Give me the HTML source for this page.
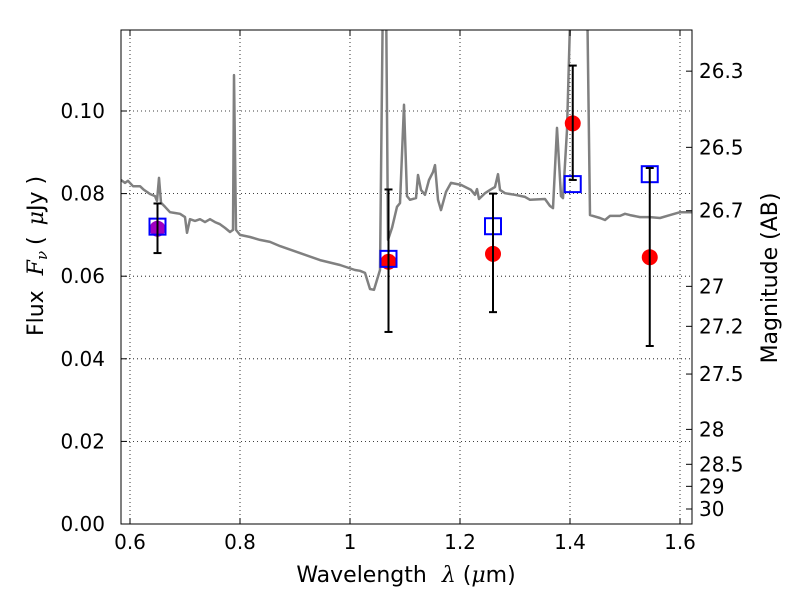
<!DOCTYPE html>
<html><head><meta charset="utf-8"><style>
body{margin:0;background:#fff;}
svg{display:block;font-family:"DejaVu Sans","Liberation Sans",sans-serif;}
</style></head><body>
<svg id="c" width="800" height="600"></svg>
<script>
const specWl=[0.5836,0.5909,0.5964,0.6055,0.6182,0.6255,0.6364,0.6455,0.6491,0.6527,0.6564,0.6636,0.6727,0.6818,0.6909,0.7,0.7036,0.7091,0.7182,0.7273,0.7364,0.7455,0.7545,0.7636,0.7727,0.7818,0.7873,0.7891,0.7927,0.8,0.8182,0.8364,0.8545,0.8727,0.9091,0.9455,0.9818,1.0091,1.0182,1.0273,1.0364,1.0436,1.0545,1.06,1.0655,1.0691,1.0764,1.0855,1.0909,1.0982,1.1036,1.1091,1.12,1.1236,1.1291,1.1364,1.1436,1.1509,1.1545,1.16,1.1655,1.1745,1.1836,1.2018,1.22,1.2273,1.2309,1.2345,1.2455,1.2545,1.2636,1.2691,1.2727,1.2818,1.3,1.3182,1.3273,1.3545,1.3636,1.3691,1.3764,1.3836,1.3873,1.3945,1.4018,1.4309,1.4364,1.4545,1.4636,1.4727,1.4909,1.5,1.5091,1.5273,1.5455,1.5636,1.5818,1.6,1.6218];
const specFlux=[0.0833,0.0826,0.0831,0.0818,0.0818,0.0809,0.0799,0.0794,0.0782,0.0838,0.0778,0.0768,0.0755,0.0753,0.0751,0.0743,0.0705,0.0738,0.0734,0.0738,0.0731,0.0738,0.0731,0.0726,0.0717,0.0707,0.0712,0.1087,0.0712,0.0700,0.0695,0.0688,0.0683,0.0673,0.0656,0.0639,0.0627,0.0615,0.0613,0.0608,0.0569,0.0567,0.0615,0.13,0.13,0.0688,0.0717,0.0768,0.0777,0.1015,0.0794,0.0785,0.0789,0.0845,0.0809,0.0797,0.0833,0.0852,0.0869,0.0785,0.0760,0.0804,0.0826,0.0821,0.0809,0.0797,0.0811,0.0787,0.0801,0.0809,0.0816,0.0847,0.0809,0.0801,0.0797,0.0792,0.0785,0.0787,0.0770,0.0765,0.0959,0.0794,0.0789,0.0954,0.13,0.13,0.0748,0.0741,0.0736,0.0746,0.0746,0.0751,0.0748,0.0743,0.0743,0.0741,0.0748,0.0755,0.0755];
const photWl=[0.65,1.07,1.26,1.405,1.545];
const photFlux=[0.0715,0.0635,0.0654,0.0970,0.0646];
const photErrLo=[0.0656,0.0465,0.0513,0.0833,0.0431];
const photErrHi=[0.0776,0.0810,0.0800,0.1110,0.0862];
const modelFlux=[0.0720,0.0642,0.0721,0.0823,0.0847];
const yTicks=[0,0.02,0.04,0.06,0.08,0.10];
const yTickLabels=["0.00","0.02","0.04","0.06","0.08","0.10"];
const xTicks=[0.6,0.8,1.0,1.2,1.4,1.6];
const xTickLabels=["0.6","0.8","1","1.2","1.4","1.6"];
const magTicks=[26.3,26.5,26.7,27,27.2,27.5,28,28.5,29,30];
const magTickLabels=["26.3","26.5","26.7","27","27.2","27.5","28","28.5","29","30"];

const L=121,R=692,T=30,B=524;
const X=v=>130+(v-0.6)*550;
const Y=v=>524-v*4130;
const magToFlux=m=>Math.pow(10,(23.9-m)/2.5);
const svg=document.getElementById('c');
const NS='http://www.w3.org/2000/svg';
function mk(t,a,p){const e=document.createElementNS(NS,t);for(const k in a)e.setAttribute(k,a[k]);(p||svg).appendChild(e);return e;}

const clip=mk('clipPath',{id:'pc'});mk('rect',{x:L,y:T,width:R-L,height:B-T},clip);
xTicks.forEach(v=>{const g=mk('line',{x1:X(v),x2:X(v),y1:T,y2:B,stroke:'#000','stroke-dasharray':'1,3','stroke-width':0.8});
});
yTicks.forEach(v=>{const g=mk('line',{x1:L,x2:R,y1:Y(v),y2:Y(v),stroke:'#000','stroke-dasharray':'1,3','stroke-width':0.8});
});
const pts=specWl.map((w,i)=>X(w).toFixed(1)+','+Y(specFlux[i]).toFixed(1)).join(' ');
const spec=mk('polyline',{points:pts,fill:'none',stroke:'#808080','stroke-width':2.5,'clip-path':'url(#pc)','stroke-linejoin':'round'});

photWl.forEach((w,i)=>{
  const x=X(w);
  const c=mk('circle',{cx:x,cy:Y(photFlux[i]),r:8,fill:i===0?'#a000c0':'#ff0000'});
  
  const bx=mk('rect',{x:x-8,y:Y(modelFlux[i])-8,width:16,height:16,fill:'none',stroke:'#0000ff','stroke-width':2});
  
  const eg=mk('g',{stroke:'#000','stroke-width':2});
  
  mk('line',{x1:x,x2:x,y1:Y(photErrLo[i]),y2:Y(photErrHi[i])},eg);
  mk('line',{x1:x-4,x2:x+4,y1:Y(photErrLo[i]),y2:Y(photErrLo[i])},eg);
  mk('line',{x1:x-4,x2:x+4,y1:Y(photErrHi[i]),y2:Y(photErrHi[i])},eg);
});
const fr=mk('rect',{x:L,y:T,width:R-L,height:B-T,fill:'none',stroke:'#000','stroke-width':1});

xTicks.forEach((v,i)=>{mk('line',{x1:X(v),x2:X(v),y1:B,y2:B-6,stroke:'#000'});mk('line',{x1:X(v),x2:X(v),y1:T,y2:T+6,stroke:'#000'});
  const t=mk('text',{x:X(v),y:B+25,'text-anchor':'middle','font-size':20});t.textContent=xTickLabels[i];
  });
yTicks.forEach((v,i)=>{mk('line',{x1:L,x2:L+6,y1:Y(v),y2:Y(v),stroke:'#000'});
  const t=mk('text',{x:L-16,y:Y(v)+7,'text-anchor':'end','font-size':20});t.textContent=yTickLabels[i];
  });
magTicks.forEach((m,i)=>{const y=Y(magToFlux(m));mk('line',{x1:R,x2:R-6,y1:y,y2:y,stroke:'#000'});
  const t=mk('text',{x:R+7,y:y+7,'font-size':20});t.textContent=magTickLabels[i];
  });
let t=mk('text',{x:406,y:582,'text-anchor':'middle','font-size':22});
t.innerHTML='Wavelength  <tspan dx="8" font-style="italic" font-family="DejaVu Serif,serif">λ</tspan> (<tspan font-style="italic" font-family="DejaVu Serif,serif">μ</tspan>m)';

t=mk('text',{x:0,y:0,'text-anchor':'middle','font-size':22,transform:'translate(43,256) rotate(-90)'});
t.innerHTML='Flux <tspan dx="8" font-style="italic" font-family="DejaVu Serif,serif">F</tspan><tspan font-style="italic" font-size="15" dy="4" font-family="DejaVu Serif,serif">ν</tspan><tspan dy="-4" dx="6">( </tspan><tspan dx="4" font-style="italic" font-family="DejaVu Serif,serif">μ</tspan>Jy )';

t=mk('text',{x:0,y:0,'text-anchor':'middle','font-size':22,transform:'translate(777,278) rotate(-90)'});
t.textContent='Magnitude (AB)';

</script>
</body></html>
